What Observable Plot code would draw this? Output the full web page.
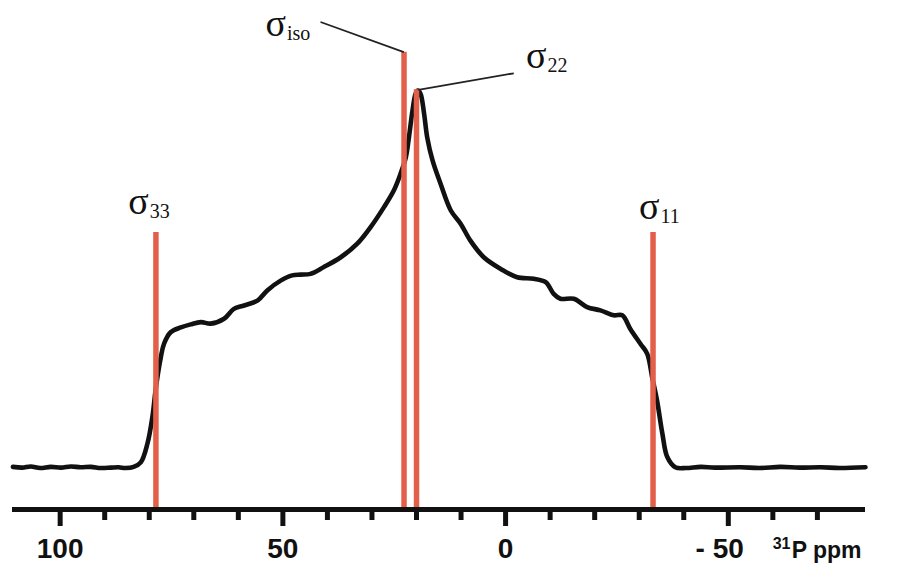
<!DOCTYPE html>
<html>
<head>
<meta charset="utf-8">
<script src="https://cdn.jsdelivr.net/npm/d3@7"></script>
<script src="https://cdn.jsdelivr.net/npm/@observablehq/plot@0.6"></script>
<style>
  html, body { margin: 0; padding: 0; background: #fff; }
  #chart svg { display: block; }
</style>
</head>
<body>
<div id="chart"></div>
<script>
// Static 31P powder spectrum: chemical shift (ppm) and relative intensity
const shiftPpm = [
  110.6, 108.5, 106.6, 104.5, 102.1, 99.8, 97.6, 95.4, 93.1, 90.9, 88.6, 86.9, 85.3, 83.5,
  81.9, 80.4, 79.3, 78.5, 77.4, 76.7, 75.2, 72.9, 70.7, 68.4, 66.2, 63.2, 61.0, 58.7,
  55.7, 53.5, 50.5, 47.9, 46.0, 43.8, 40.8, 37.0, 33.3, 30.3, 27.3, 25.1, 23.6, 22.4,
  21.7, 20.9, 20.2, 19.7, 19.1, 18.3, 17.6, 16.4, 14.6, 12.3, 10.1, 7.9, 4.9, 1.1,
  -2.6, -6.3, -9.0, -10.8, -12.3, -15.3, -18.3, -21.3, -24.3, -26.2, -28.0, -30.3, -31.8,
  -32.9, -34.0, -35.2, -36.3, -38.1, -40.5, -43.8, -47.0, -52.7, -57.0, -61.7, -66.0,
  -70.7, -75.0, -80.8
];
const intensity = [
  0.3, 0.1, 0.4, 0.0, 0.3, 0.1, 0.4, 0.2, 0.3, 0.0, 0.1, 0.2, 0.0, 0.3,
  1.5, 6.5, 13.5, 21.4, 29.4, 32.9, 36.0, 37.3, 38.1, 38.7, 38.3, 39.6, 42.2, 43.1,
  44.4, 47.1, 49.7, 51.1, 51.3, 51.5, 53.3, 55.9, 59.5, 63.9, 69.2, 73.6, 78.0, 82.4,
  87.7, 94.8, 99.3, 100.1, 99.3, 94.0, 87.7, 81.6, 75.4, 68.3, 64.8, 60.3, 55.9, 52.8,
  50.6, 50.2, 49.3, 46.2, 44.9, 44.9, 42.7, 41.8, 40.5, 40.5, 36.9, 32.9, 30.3,
  24.1, 17.9, 9.1, 2.9, 0.2, 0.0, 0.3, 0.1, 0.2, 0.0, 0.3, 0.1,
  0.2, 0.0, 0.2
];

// Shielding tensor components (σiso, σ22, σ33, σ11)
const tensorSub = ["iso", "22", "33", "11"];
const tensorPpm = [22.8, 20.0, 78.5, -33.1];
const markerTop = [110.3, 100.3, 62.5, 62.5];
const labelPpm = [49.3, -9.2, 80.1, -34.55];
const labelLevel = [114.7, 106.0, 67.4, 66.1];

// Leader lines from the upper labels down to their markers
const leaderFromPpm = [41.55, -1.84];
const leaderFromLevel = [118.3, 104.7];
const leaderToPpm = [22.85, 19.6];
const leaderToLevel = [110.3, 100.3];

// Axis ticks
const majorTicks = [100, 50, 0, -50];
const majorLabels = ["100", "50", "0", "- 50"];
const minorTicks = [90, 80, 70, 60, 40, 30, 20, 10, -10, -20, -30, -40, -60, -70];
const axisUnit = "P ppm";
const axisIsotope = "31";

const axisFloor = -11;
const red = "#e2604a";
const ink = "#111";
const serif = "'Liberation Serif', 'Times New Roman', serif";
const sans = "'Liberation Sans', Arial, Helvetica, sans-serif";

const spectrum = shiftPpm.map((ppm, i) => ({ppm, level: intensity[i]}));
const tensors = tensorSub.map((sub, i) => ({
  sub, ppm: tensorPpm[i], top: markerTop[i], lx: labelPpm[i], ly: labelLevel[i]
}));
const leaders = leaderFromPpm.map((x1, i) => ({
  x1, y1: leaderFromLevel[i], x2: leaderToPpm[i], y2: leaderToLevel[i]
}));
const labelOf = new Map(majorTicks.map((t, i) => [t, majorLabels[i]]));

const chart = Plot.plot({
  width: 897,
  height: 571,
  marginLeft: 12,
  marginRight: 32,
  marginTop: 0,
  marginBottom: 62,
  x: {domain: [110.7, -80.8]},
  y: {domain: [axisFloor, 124], axis: null},
  style: {background: "#fff", overflow: "visible"},
  marks: [
    // spectrum
    Plot.line(spectrum, {
      x: "ppm", y: "level", curve: "catmull-rom",
      stroke: ink, strokeWidth: 4.6, strokeLinejoin: "round", strokeLinecap: "round"
    }),
    // tensor markers
    Plot.ruleX(tensors, {x: "ppm", y1: axisFloor, y2: "top", stroke: red, strokeWidth: 5.5}),
    // leader lines
    Plot.link(leaders, {x1: "x1", y1: "y1", x2: "x2", y2: "y2", stroke: "#222", strokeWidth: 1.8}),
    // σ symbols and their subscripts
    Plot.text(tensors, {
      x: "lx", y: "ly", text: () => "σ", textAnchor: "end", lineAnchor: "bottom",
      fontSize: 38, fontFamily: serif, fill: ink
    }),
    Plot.text(tensors, {
      x: "lx", y: "ly", text: "sub", textAnchor: "start", lineAnchor: "bottom", dx: 1, dy: 4,
      fontSize: 20, fontFamily: serif, fill: ink
    }),
    // axis line
    Plot.ruleY([axisFloor], {stroke: ink, strokeWidth: 5}),
    // minor ticks
    Plot.axisX(minorTicks, {
      anchor: "bottom", tickSize: 11, strokeWidth: 5, stroke: ink,
      tickFormat: () => "", label: null
    }),
    // major ticks
    Plot.axisX(majorTicks, {
      anchor: "bottom", tickSize: 17, strokeWidth: 5, stroke: ink,
      tickFormat: () => "", label: null
    }),
    // major tick labels (the negative one is set with a leading "- ")
    Plot.axisX(majorTicks.filter(t => t >= 0), {
      anchor: "bottom", tickSize: 0, tickPadding: 29, strokeWidth: 0,
      tickFormat: t => labelOf.get(t), label: null,
      fontSize: 28, fontWeight: "bold", fontFamily: sans, fill: ink
    }),
    Plot.axisX(majorTicks.filter(t => t < 0), {
      anchor: "bottom", tickSize: 0, tickPadding: 29, strokeWidth: 0,
      tickFormat: t => labelOf.get(t), label: null, textAnchor: "end", dx: 15.5,
      fontSize: 28, fontWeight: "bold", fontFamily: sans, fill: ink
    }),
    // axis unit
    Plot.text([axisUnit], {
      frameAnchor: "bottom-right", text: d => d, textAnchor: "end", lineAnchor: "bottom",
      dx: -4, dy: 48, fontSize: 23, fontWeight: "bold", fontFamily: sans, fill: ink
    }),
    Plot.text([axisIsotope], {
      frameAnchor: "bottom-right", text: d => d, textAnchor: "end", lineAnchor: "bottom",
      dx: -75, dy: 39, fontSize: 16, fontWeight: "bold", fontFamily: sans, fill: ink
    })
  ]
});

document.getElementById("chart").appendChild(chart);
</script>
</body>
</html>
